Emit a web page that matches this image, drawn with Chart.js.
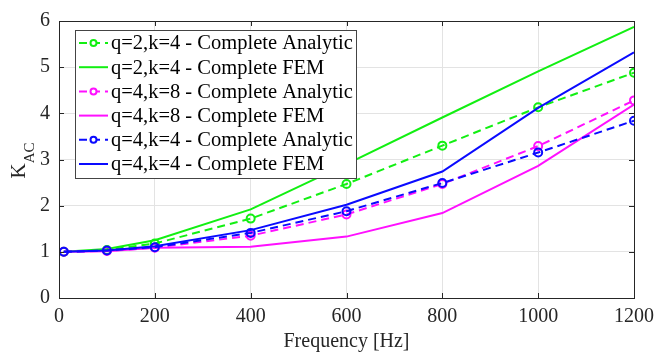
<!DOCTYPE html>
<html>
<head>
<meta charset="utf-8">
<script src="https://cdn.jsdelivr.net/npm/chart.js@4.4.1/dist/chart.umd.min.js"></script>
<style>
  html, body { margin: 0; padding: 0; background: #fff; }
  #wrap { width: 667px; height: 352px; }
</style>
</head>
<body>
<div id="wrap"><canvas id="chart"></canvas></div>
<script>
// values
const freq = [10, 100, 200, 400, 600, 800, 1000, 1200];
const q2k4Analytic = [1.00, 1.04, 1.18, 1.72, 2.47, 3.30, 4.13, 4.88];
const q2k4Fem      = [1.00, 1.06, 1.25, 1.92, 2.90, 3.91, 4.91, 5.87];
const q4k8Analytic = [1.00, 1.02, 1.09, 1.35, 1.81, 2.47, 3.29, 4.28];
const q4k8Fem      = [1.00, 1.01, 1.09, 1.11, 1.33, 1.84, 2.86, 4.19];
const q4k4Analytic = [1.00, 1.03, 1.10, 1.41, 1.88, 2.49, 3.15, 3.84];
const q4k4Fem      = [1.00, 1.03, 1.12, 1.47, 2.02, 2.74, 4.12, 5.32];
const seriesLabels = [
  "q=2,k=4 - Complete Analytic", "q=2,k=4 - Complete FEM",
  "q=4,k=8 - Complete Analytic", "q=4,k=8 - Complete FEM",
  "q=4,k=4 - Complete Analytic", "q=4,k=4 - Complete FEM"
];
const xTicks = [0, 200, 400, 600, 800, 1000, 1200];
const yTicks = [0, 1, 2, 3, 4, 5, 6];

const GREEN = "#12ef12", MAGENTA = "#ff10ff", BLUE = "#0a0aff";
const INK = "#262626";
const SERIF = "'Liberation Serif', 'DejaVu Serif', serif";

const series = [
  {y: q2k4Analytic, color: GREEN,   dashed: true},
  {y: q2k4Fem,      color: GREEN,   dashed: false},
  {y: q4k8Analytic, color: MAGENTA, dashed: true},
  {y: q4k8Fem,      color: MAGENTA, dashed: false},
  {y: q4k4Analytic, color: BLUE,    dashed: true},
  {y: q4k4Fem,      color: BLUE,    dashed: false},
];

const datasets = series.map((s, i) => ({
  label: seriesLabels[i],
  data: freq.map((f, j) => ({x: f, y: s.y[j]})),
  borderColor: s.color,
  backgroundColor: "rgba(0,0,0,0)",
  borderWidth: 2,
  borderDash: s.dashed ? [8, 5] : [],
  pointRadius: s.dashed ? 4 : 0,
  pointBorderWidth: 2,
  pointBorderColor: s.color,
  pointBackgroundColor: "rgba(0,0,0,0)",
  tension: 0,
  order: series.length - i,   // later series on top, like MATLAB
  dashed: s.dashed,
}));

/* box with inward ticks on all four sides, plus y title with subscript */
const matlabAxes = {
  id: "matlabAxes",
  afterDatasetsDraw(chart) {
    const {ctx, chartArea: a, scales: {x, y}} = chart;
    const TL = 5;
    ctx.save();
    ctx.strokeStyle = INK;
    ctx.lineWidth = 1;
    ctx.beginPath();
    xTicks.forEach(v => {
      const px = Math.round(x.getPixelForValue(v)) + 0.5;
      ctx.moveTo(px, a.bottom); ctx.lineTo(px, a.bottom - TL);
      ctx.moveTo(px, a.top);    ctx.lineTo(px, a.top + TL);
    });
    yTicks.forEach(v => {
      const py = Math.round(y.getPixelForValue(v)) + 0.5;
      ctx.moveTo(a.left, py);  ctx.lineTo(a.left + TL, py);
      ctx.moveTo(a.right, py); ctx.lineTo(a.right - TL, py);
    });
    ctx.stroke();
    ctx.strokeRect(Math.round(a.left) + 0.5, Math.round(a.top) + 0.5,
                   Math.round(a.right - a.left), Math.round(a.bottom - a.top));

    // y axis title: K with subscript AC
    ctx.translate(25, (a.top + a.bottom) / 2 + 1);
    ctx.rotate(-Math.PI / 2);
    ctx.fillStyle = INK;
    ctx.textBaseline = "alphabetic";
    ctx.font = "21px " + SERIF;
    const wK = ctx.measureText("K").width;
    ctx.font = "15px " + SERIF;
    const wS = ctx.measureText("AC").width;
    const x0 = -(wK + wS) / 2;
    ctx.font = "21px " + SERIF;
    ctx.fillText("K", x0, 0);
    ctx.font = "15px " + SERIF;
    ctx.fillText("AC", x0 + wK, 9);
    ctx.restore();
  }
};

/* MATLAB style legend box in the upper left */
const boxLegend = {
  id: "boxLegend",
  afterDraw(chart) {
    const {ctx} = chart;
    const L = 75, T = 30, W = 281, H = 148, ROW = 24.2;
    ctx.save();
    ctx.fillStyle = "#fff";
    ctx.fillRect(L, T, W, H);
    ctx.strokeStyle = "#444";
    ctx.lineWidth = 1;
    ctx.strokeRect(L + 0.5, T + 0.5, W, H);
    chart.data.datasets.forEach((ds, i) => {
      const cy = T + 13 + i * ROW;
      ctx.strokeStyle = ds.borderColor;
      ctx.lineWidth = 2;
      ctx.setLineDash(ds.dashed ? [8, 5] : []);
      ctx.beginPath();
      ctx.moveTo(79, cy); ctx.lineTo(108, cy);
      ctx.stroke();
      ctx.setLineDash([]);
      if (ds.pointRadius > 0) {
        ctx.beginPath();
        ctx.arc(93.5, cy, 3, 0, Math.PI * 2);
        ctx.fillStyle = "#fff";
        ctx.fill();
        ctx.stroke();
      }
      ctx.fillStyle = "#000";
      ctx.font = "20.5px " + SERIF;
      ctx.textBaseline = "middle";
      ctx.fillText(ds.label, 111, cy + 1);
    });
    ctx.restore();
  }
};

new Chart(document.getElementById("chart"), {
  type: "line",
  data: {datasets},
  options: {
    responsive: true,
    maintainAspectRatio: false,
    animation: false,
    events: [],
    layout: {padding: {left: 0, right: 33, top: 17, bottom: 0}},
    plugins: {legend: {display: false}, tooltip: {enabled: false}},
    scales: {
      x: {
        type: "linear", min: 0, max: 1200,
        afterFit: s => { s.height = 54; },
        afterBuildTicks: s => { s.ticks = xTicks.map(v => ({value: v})); },
        grid: {color: "#e3e3e3", lineWidth: 1, drawTicks: false},
        border: {display: false},
        ticks: {color: INK, padding: 7, maxRotation: 0, callback: v => String(v),
                font: {family: SERIF, size: 20}},
        title: {display: true, text: "Frequency [Hz]", color: INK,
                padding: {top: 0, bottom: -2},
                font: {family: SERIF, size: 20}}
      },
      y: {
        type: "linear", min: 0, max: 6,
        afterFit: s => { s.width = 59; },
        afterBuildTicks: s => { s.ticks = yTicks.map(v => ({value: v})); },
        grid: {color: "#e3e3e3", lineWidth: 1, drawTicks: false},
        border: {display: false},
        ticks: {color: INK, padding: 9, callback: v => String(v),
                font: {family: SERIF, size: 20}}
      }
    }
  },
  plugins: [matlabAxes, boxLegend]
});
</script>
</body>
</html>
